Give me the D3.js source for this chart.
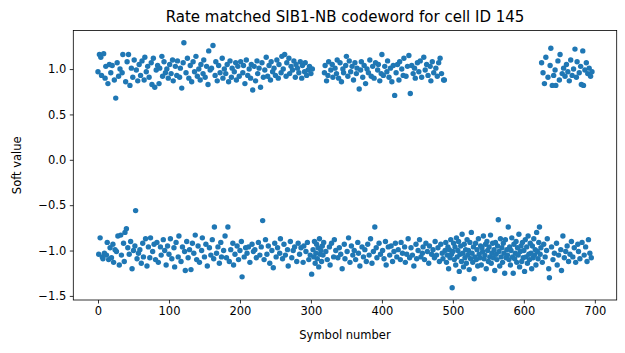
<!DOCTYPE html>
<html lang="en">
<head>
    <meta charset="UTF-8">
    <title>Rate matched SIB1-NB codeword</title>
    <style>
        body{
            margin: 0;
            background: #fff;
            font-family: "DejaVu Sans";
        }
        .tick text{
            font-size: 11.5px;
            fill: #000;
        }
        .title{
            font-size: 15px;
            text-anchor: middle;
        }
        .axis-label{
            font-size: 11.5px;
            text-anchor: middle;
        }
        .dot{
            fill: #1f77b4;
        }
    </style>
    <script src="https://d3js.org/d3.v7.min.js"></script>
</head>
<body>
    <script>
        // soft values, one per symbol, in blocks of 100
        var soft0 = [
            0.97,-1.04,1.16,-0.86,1.13,0.93,-1.07,-1.09,1.17,-1.03,0.90,1.03,-1.05,-0.91,0.84,-1.10,1.05,-0.97,0.96,-1.08,
            1.04,-0.93,-1.13,0.88,-0.99,0.68,-1.01,1.07,-0.84,0.92,-1.16,1.00,-0.83,-1.05,0.96,1.16,-0.92,-1.12,-0.80,0.86,
            -0.76,1.08,-0.97,1.16,-1.04,0.82,-0.90,1.01,-1.20,0.91,-1.00,1.10,-0.95,-0.56,0.99,-1.09,0.87,-1.03,1.05,-0.99,
            0.93,-1.14,1.09,-0.92,-1.07,0.88,1.13,-0.87,0.97,-1.17,1.03,-0.96,0.91,-1.08,-0.86,1.07,0.83,-1.01,1.12,-0.93,
            0.80,-1.10,0.99,-0.91,1.04,-1.13,0.84,1.01,-0.96,-1.05,1.14,0.92,-0.88,1.08,-1.00,0.96,-1.16,1.00,-0.95,0.90
        ];
        var soft1 = [
            -1.04,1.05,-0.87,0.95,-1.09,1.10,0.87,-0.97,-1.18,1.03,-0.91,0.93,1.09,-1.07,-0.84,0.91,1.01,-1.12,0.79,-0.96,
            1.07,1.29,-1.01,-1.22,0.96,-0.90,1.12,-1.08,0.90,-0.99,1.04,-1.21,0.86,-0.92,1.08,-1.03,0.97,-0.83,1.14,-1.10,
            0.92,-0.95,1.00,-1.13,0.88,1.05,-1.00,-0.86,0.95,1.10,-1.07,0.91,-0.93,1.03,-1.17,0.83,1.20,-0.97,0.99,-1.05,
            1.01,-0.88,1.26,-1.09,-0.74,0.93,1.08,-1.03,0.87,-0.96,1.04,-1.14,0.96,-0.91,-1.07,1.12,0.90,-1.00,1.00,-0.84,
            0.95,-1.08,1.05,-0.74,0.86,-1.12,1.09,-0.99,0.91,1.01,-0.92,-1.16,0.97,-1.04,1.07,0.88,-0.95,1.03,-1.10,0.92
        ];
        var soft2 = [
            -1.00,1.08,-0.90,-1.29,0.96,1.04,-1.07,0.84,-0.97,1.10,-1.03,0.93,-0.96,1.00,-1.13,0.90,1.05,-0.93,0.77,-1.01,
            1.03,-0.99,0.87,-1.08,1.09,0.95,-0.91,1.01,-1.05,0.80,-0.96,1.07,-0.67,0.91,-1.10,0.99,-0.88,1.13,-1.04,0.92,
            -0.95,1.04,-1.14,0.88,1.08,-1.00,0.97,-1.19,1.01,-0.92,0.93,-1.07,1.10,-0.97,0.90,1.05,-1.03,-0.87,0.96,1.14,
            -1.09,1.00,-0.93,1.16,-1.05,0.92,1.07,-0.99,-1.17,1.12,0.95,-0.90,1.03,-1.08,0.99,-1.00,1.09,-0.96,0.91,1.05,
            -1.12,1.01,-0.92,0.96,-1.04,1.08,-0.97,0.90,1.04,-1.13,-0.95,0.97,1.07,-1.01,0.93,-0.91,0.99,-1.10,1.03,-1.05
        ];
        var soft3 = [
            0.95,-1.26,1.00,-0.99,-1.07,-0.90,-1.14,-1.03,-0.93,-1.09,-0.97,-1.18,-0.87,-1.04,-1.00,-1.12,-0.95,-1.05,-0.91,0.96,
            1.04,-1.01,0.87,-1.10,0.93,1.08,-0.96,-1.16,0.99,-0.92,1.05,0.91,-1.07,-0.88,1.01,-1.00,0.95,1.10,-1.08,0.90,
            -0.97,1.07,-1.04,0.86,-1.20,1.00,0.96,-0.93,-1.09,1.04,1.14,-1.01,0.92,-0.86,1.09,-1.13,0.97,-0.95,1.03,-1.05,
            0.88,-1.00,1.07,-1.10,0.95,1.01,-0.91,-1.03,0.78,-1.17,0.99,1.08,-0.96,0.91,-1.07,1.04,-0.99,0.84,-1.12,1.00,
            -0.93,0.96,-1.05,1.10,-0.87,0.92,-1.14,1.03,-1.01,0.90,-0.74,1.07,-0.97,-1.08,0.99,1.05,-0.92,0.87,-1.04,0.95
        ];
        var soft4 = [
            1.16,-1.00,0.93,-1.09,1.03,-0.90,-1.16,0.97,1.09,-0.96,0.91,-1.05,1.01,-0.95,0.86,-1.12,1.04,-1.01,0.71,-0.92,
            0.96,-1.07,1.05,-0.99,0.88,1.08,-1.10,-0.91,1.00,-1.03,0.93,1.12,-0.96,-1.13,0.92,-1.04,1.03,-0.87,1.15,-1.08,
            0.73,-0.97,1.04,-1.05,0.95,-1.17,1.01,0.90,-0.93,-1.09,1.07,-1.00,0.97,-0.88,1.09,-1.07,0.91,-1.03,-0.96,1.13,
            -1.10,0.99,-0.92,1.05,-1.01,0.93,-1.14,-0.95,1.03,0.87,-1.04,1.08,-0.99,0.96,-1.08,-0.90,1.01,-1.05,0.92,-0.97,
            1.07,-1.12,1.12,-0.93,0.95,-1.03,-1.09,0.88,0.88,-1.00,-0.91,-1.13,-1.05,-0.96,-1.20,-0.99,-1.08,-0.88,-1.04,-1.41
        ];
        var soft5 = [
            -1.01,-0.92,-1.10,-0.96,-1.16,-0.86,-1.07,-1.00,-0.90,-1.23,-1.04,-0.95,-1.12,-0.82,-1.03,-1.18,-0.93,-1.08,-0.99,-1.14,
            -0.88,-1.05,-1.00,-1.21,-0.91,-1.09,-0.80,-1.03,-1.13,-0.96,-1.31,-1.07,-0.92,-1.10,-0.99,-1.17,-0.87,-1.04,-1.08,-0.95,
            -1.16,-0.97,-1.01,-0.84,-1.09,-1.05,-0.93,-1.20,-0.90,-1.00,-1.12,-0.96,-1.07,-0.83,-1.14,-1.03,-0.92,-1.08,-0.99,-1.22,
            -0.91,-1.04,-1.10,-0.95,-0.66,-1.01,-1.17,-0.87,-1.07,-0.97,-1.13,-0.92,-1.03,-1.25,-0.88,-1.08,-0.99,-1.05,-0.74,-1.10,
            -0.96,-1.16,-1.00,-0.86,-1.07,-1.25,-0.93,-1.09,-1.03,-0.90,-1.13,-0.97,-1.05,-0.82,-1.18,-1.01,-0.95,-1.12,-0.91,-1.08
        ];
        var soft6 = [
            -1.00,-1.23,-0.88,-1.07,-0.96,-1.14,-0.84,-1.04,-1.10,-0.92,-1.03,-1.20,-0.95,-1.08,-0.87,-1.05,-0.99,-1.16,-0.80,-1.01,
            -1.09,-0.91,-0.74,-1.04,-0.97,1.07,-1.13,0.96,-0.93,0.84,-1.07,1.13,-1.00,-0.87,0.91,-1.20,-1.30,1.04,1.23,-0.96,
            0.82,-1.10,0.93,-1.03,0.99,0.82,-0.92,-1.16,1.09,-1.05,0.88,1.16,-0.99,-1.22,0.95,-0.84,1.01,-1.08,0.92,-1.01,
            1.05,-0.95,0.97,-1.12,0.87,-1.04,1.10,-0.90,0.93,-1.07,1.00,-0.97,1.22,-1.13,0.91,1.08,-0.93,-1.01,0.96,-1.09,
            1.03,0.83,-0.91,1.20,0.82,-1.05,0.99,-0.96,1.07,-1.12,0.95,-0.88,1.01,-1.03,0.92,-1.08,0.97
        ];
        var softValues = [].concat(soft0, soft1, soft2, soft3, soft4, soft5, soft6);

        var xTicks = [0, 100, 200, 300, 400, 500, 600, 700];
        var yTicks = [-1.5, -1.0, -0.5, 0.0, 0.5, 1.0];

        var titleText = "Rate matched SIB1-NB codeword for cell ID 145";
        var xLabel = "Symbol number";
        var yLabel = "Soft value";

        var W = 625, H = 353;
        var margin = {left: 73.3, right: 8.3, top: 30.5, bottom: 53};
        var pw = W - margin.left - margin.right;
        var ph = H - margin.top - margin.bottom;

        var data = softValues.map(function(v, i){ return {x: i, y: v}; });

        // matplotlib style 5% padding around the data
        var xExt = d3.extent(data, function(d){ return d.x; });
        var yExt = d3.extent(data, function(d){ return d.y; });
        var xPad = (xExt[1] - xExt[0]) * 0.05;
        var yPad = (yExt[1] - yExt[0]) * 0.05;

        var x = d3.scaleLinear()
                .domain([xExt[0] - xPad, xExt[1] + xPad])
                .range([0, pw]);
        var y = d3.scaleLinear()
                .domain([yExt[0] - yPad, yExt[1] + yPad])
                .range([ph, 0]);

        var svg = d3.select("body").append("svg")
                .attr("width", W)
                .attr("height", H);

        var g = svg.append("g")
                .attr("transform", "translate(" + margin.left + "," + margin.top + ")");

        g.selectAll("circle")
            .data(data)
            .enter().append("circle")
            .attr("class", "dot")
            .attr("cx", function(d){ return x(d.x); })
            .attr("cy", function(d){ return y(d.y); })
            .attr("r", 2.7);

        var xAxis = g.append("g")
                .attr("transform", "translate(0," + ph + ")")
                .call(d3.axisBottom(x).tickValues(xTicks).tickSize(3.5).tickPadding(3.5).tickFormat(d3.format("d")));
        var yAxis = g.append("g")
                .call(d3.axisLeft(y).tickValues(yTicks).tickSize(3.5).tickPadding(3.5).tickFormat(d3.format(".1f")));

        [xAxis, yAxis].forEach(function(a){
            a.select(".domain").remove();
            a.selectAll(".tick line").attr("stroke", "#000").attr("stroke-width", 0.8);
            a.selectAll(".tick text").attr("font-family", "DejaVu Sans");
        });

        // axes frame
        g.append("rect")
            .attr("x", 0)
            .attr("y", 0)
            .attr("width", pw)
            .attr("height", ph)
            .attr("fill", "none")
            .attr("stroke", "#000")
            .attr("stroke-width", 0.8);

        svg.append("text")
            .attr("class", "title")
            .attr("x", margin.left + pw / 2)
            .attr("y", 22)
            .text(titleText);

        svg.append("text")
            .attr("class", "axis-label")
            .attr("x", margin.left + pw / 2)
            .attr("y", 339)
            .text(xLabel);

        svg.append("text")
            .attr("class", "axis-label")
            .attr("transform", "translate(21," + (margin.top + ph / 2) + ") rotate(-90)")
            .text(yLabel);
    </script>
</body>
</html>
